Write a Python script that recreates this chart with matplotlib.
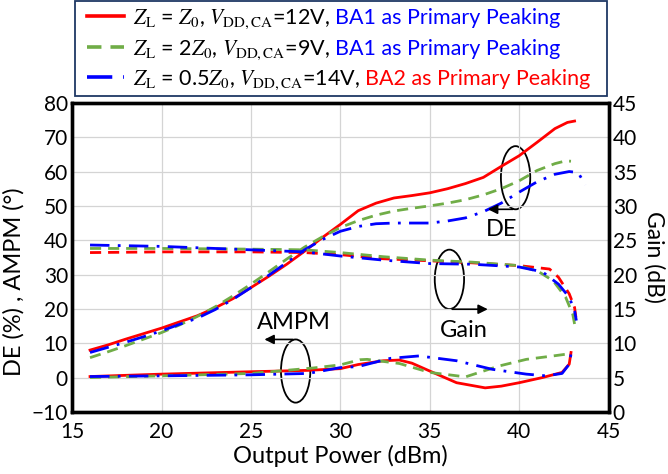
import matplotlib
matplotlib.use('Agg')
import matplotlib.pyplot as plt
from matplotlib.patches import Ellipse, Rectangle
from matplotlib.lines import Line2D

plt.rcParams['font.family'] = ['Lato', 'DejaVu Sans']
plt.rcParams['mathtext.fontset'] = 'stix'

# DE (%) curves
red_de_x = [16, 17, 18, 19, 20, 21, 22, 23, 24, 25, 26, 27, 28, 29, 30, 31, 32, 33, 34, 35, 36, 37, 38, 39, 40, 41, 42, 42.7, 43.1]
red_de_y = [8, 9.5, 11.2, 12.8, 14.4, 16.2, 18, 20.3, 23, 26.2, 29.5, 33, 36.8, 40.8, 44.6, 48.6, 50.8, 52.3, 53, 53.8, 55, 56.5, 58.3, 61.5, 64.6, 68.5, 72.5, 74.3, 74.7]
green_de_x = [16, 17, 18, 19, 20, 21, 22, 23, 24, 25, 26, 27, 28, 29, 30, 31, 32, 33, 34, 35, 36, 37, 38, 39, 40, 41, 42, 42.6, 42.9]
green_de_y = [5.8, 7.5, 9.3, 11.2, 13.1, 15.3, 17.8, 20.6, 23.8, 27.2, 30.8, 34.5, 38, 41, 43.7, 45.7, 47.3, 48.5, 49.3, 50, 50.8, 51.8, 53.2, 55, 57.3, 60.3, 62.3, 63.1, 63]
blue_de_x = [16, 17, 18, 19, 20, 21, 22, 23, 24, 25, 26, 27, 28, 29, 30, 31, 32, 33, 34, 35, 36, 37, 38, 39, 40, 41, 42, 42.8, 43.3, 43.7]
blue_de_y = [7.3, 8.8, 10.3, 11.9, 13.6, 15.5, 17.3, 19.8, 22.8, 26.2, 29.8, 33.5, 37.2, 40.2, 42.6, 44, 44.8, 45, 45, 45, 45.6, 46.5, 48.3, 50.8, 54, 57, 59.2, 60, 59.7, 56.1]

# AMPM (deg) curves
red_pm_x = [16, 20, 25, 28.2, 30, 31, 32.4, 33.3, 34, 35, 36.5, 38.1, 39, 40, 41.3, 42.4, 42.8, 42.9]
red_pm_y = [0.3, 1.0, 1.7, 2.1, 2.6, 3.8, 4.9, 5.1, 4.2, 1.9, -1.5, -3, -2.5, -1.5, 0, 1.5, 3.9, 7.3]
green_pm_x = [16, 20, 25, 28.5, 30, 31.1, 31.5, 33.3, 35, 37, 38.9, 40.4, 41.9, 42.9]
green_pm_y = [0, 0.5, 1.2, 2.8, 3.7, 5.2, 5.3, 4.1, 1.5, 0.2, 3.4, 5.3, 6.3, 7]
blue_pm_x = [16, 20, 25, 28.2, 30, 31, 32.8, 34.4, 36.5, 38.5, 40.4, 41.5, 42.4, 42.8, 42.9]
blue_pm_y = [0.3, 0.5, 0.8, 1.2, 2.9, 3.2, 5.6, 6.3, 4.9, 2.4, 1.0, 0.5, 1.2, 3.9, 6.8]

# Gain (dB) curves
red_g_x = [16, 20, 25, 28, 30, 32.4, 35, 37.4, 40, 41.7, 42.2, 42.8, 43.1, 43.2]
red_g_y = [23.2, 23.3, 23.3, 23.2, 22.9, 22.3, 22, 21.7, 21.3, 20.8, 19.6, 17.2, 15.2, 13.3]
green_g_x = [16, 20, 25, 28, 30, 32.4, 35, 37.4, 40, 41.1, 41.9, 42.6, 43, 43.1]
green_g_y = [23.8, 23.8, 23.7, 23.6, 23.2, 22.6, 22.1, 21.8, 21.3, 20.4, 19.1, 16.7, 14.2, 12.8]
blue_g_x = [16, 20, 25, 28, 30, 32.4, 35, 37.4, 40, 41.3, 42.2, 42.8, 43.1, 43.2]
blue_g_y = [24.3, 24.1, 23.6, 23.3, 22.7, 22.1, 21.6, 21.5, 21.1, 20.4, 18.6, 16.7, 14.7, 13.3]

x_ticks = [15, 20, 25, 30, 35, 40, 45]
y_ticks = [-10, 0, 10, 20, 30, 40, 50, 60, 70, 80]
g_ticks = [0, 5, 10, 15, 20, 25, 30, 35, 40, 45]

legend_math = [r'$Z_{\mathrm{L}}$ = $Z_0$, $V_{\mathrm{DD,CA}}$=12V,',
               r'$Z_{\mathrm{L}}$ = 2$Z_0$, $V_{\mathrm{DD,CA}}$=9V,',
               r'$Z_{\mathrm{L}}$ = 0.5$Z_0$, $V_{\mathrm{DD,CA}}$=14V,']
legend_tail = ['BA1 as Primary Peaking', 'BA1 as Primary Peaking', 'BA2 as Primary Peaking']
tail_colors = ['#0000ff', '#0000ff', '#ff0000']

RED = '#ff0000'
GREEN = '#70ad47'
BLUE = '#0000ff'
lw = 2.0
DASH = (0, (4, 2.5))
DASHDOT = (0, (7, 3, 1, 3))
styles = [dict(color=RED, ls='-'),
          dict(color=GREEN, ls=DASH),
          dict(color=BLUE, ls=DASHDOT)]
gain_styles = [dict(color=RED, ls=DASH),
               dict(color=GREEN, ls=DASH),
               dict(color=BLUE, ls=DASHDOT)]

fig = plt.figure(figsize=(6.68, 4.74), dpi=100)
ax = fig.add_axes([0.108, 0.131, 0.803, 0.652])
ax2 = ax.twinx()

ax.set_xlim(15, 45)
ax.set_ylim(-10, 80)
ax2.set_ylim(0, 45)
ax.set_xticks(x_ticks)
ax.set_yticks(y_ticks)
ax2.set_yticks(g_ticks)
ax.grid(True, color='#d4d4d4', lw=0.9)
ax.tick_params(axis='y', length=0, labelsize=15, pad=3)
ax.tick_params(axis='x', length=0, labelsize=15, pad=7)
ax2.tick_params(length=0, labelsize=15, pad=3)
for a in (ax, ax2):
    for s in a.spines.values():
        s.set_linewidth(2.4)

for (xs, ys), st in zip([(red_de_x, red_de_y), (green_de_x, green_de_y), (blue_de_x, blue_de_y)], styles):
    ax.plot(xs, ys, lw=lw, **st)
for (xs, ys), st in zip([(red_pm_x, red_pm_y), (green_pm_x, green_pm_y), (blue_pm_x, blue_pm_y)], styles):
    ax.plot(xs, ys, lw=lw, **st)
for (xs, ys), st in zip([(red_g_x, red_g_y), (green_g_x, green_g_y), (blue_g_x, blue_g_y)], gain_styles):
    ax2.plot(xs, ys, lw=lw, **st)

ax.set_xlabel('Output Power (dBm)', fontsize=17)
ax.xaxis.set_label_coords(0.5, -0.108)
ax.set_ylabel('DE (%) , AMPM (°)', fontsize=17)
ax.yaxis.set_label_coords(-0.088, 0.42)
ax2.set_ylabel('Gain (dB)', fontsize=16.5, rotation=270, va='center')
ax2.yaxis.set_label_coords(1.085, 0.5)

# ellipses + arrows
arrow = dict(arrowstyle='-|>', color='black', lw=1.2, mutation_scale=14)
ax.add_patch(Ellipse((27.5, 1.9), 1.64, 18.4, fill=False, ec='black', lw=1.3))
ax.annotate('', xy=(25.6, 11.1), xytext=(27.5, 11.1), arrowprops=arrow)
ax.text(27.4, 16, 'AMPM', fontsize=17, ha='center', va='center')

ax.add_patch(Ellipse((39.8, 58.2), 1.64, 18.4, fill=False, ec='black', lw=1.3))
ax.annotate('', xy=(38.1, 49), xytext=(39.8, 49), arrowprops=arrow)
ax.text(39.0, 43, 'DE', fontsize=17, ha='center', va='center')

ax.add_patch(Ellipse((36.1, 28.6), 1.64, 17.3, fill=False, ec='black', lw=1.3))
ax.annotate('', xy=(38.4, 19.9), xytext=(36.1, 19.9), arrowprops=arrow)
ax.text(36.9, 13.8, 'Gain', fontsize=17, ha='center', va='center')

# legend box drawn in figure pixels
W, H = fig.get_size_inches() * fig.dpi
fig.add_artist(Rectangle((75 / W, 1 - 96 / H), 532 / W, 95 / H, transform=fig.transFigure,
                         fill=True, fc='white', ec='#1f3864', lw=1.3))
rows_y = [16, 47, 77]
texts = []
for i, yy in enumerate(rows_y):
    yf = 1 - yy / H
    fig.add_artist(Line2D([87 / W, 124 / W], [yf, yf], transform=fig.transFigure, lw=2.6, **styles[i]))
    t = fig.text(133 / W, yf, legend_math[i], fontsize=15.5, va='center_baseline', ha='left')
    texts.append(t)

fig.canvas.draw()
renderer = fig.canvas.get_renderer()
for i, t in enumerate(texts):
    bb = t.get_window_extent(renderer)
    fig.text((bb.x1 + 5) / W, 1 - rows_y[i] / H, legend_tail[i], fontsize=15.5, color=tail_colors[i],
             va='center_baseline', ha='left')

fig.savefig('out.png', dpi=100)
